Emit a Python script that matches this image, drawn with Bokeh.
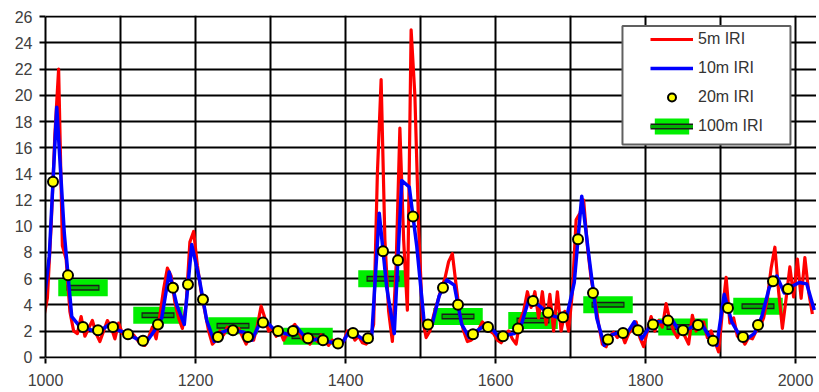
from bokeh.plotting import figure
from bokeh.models import FixedTicker, Legend, LegendItem, BoxAnnotation, Range1d
from bokeh.embed import file_html
from bokeh.resources import INLINE

# ---------------- data ----------------
# 5 m IRI, sampled every 5 m starting at 982.5
RED_START, RED_STEP = 982.5, 5
RED_5M = [
    1.5, 2.0, 2.6, 3.0, 4.5, 10.0, 17.0, 22.0, 8.5, 7.5,
    3.5, 2.0, 1.8, 3.1, 1.6, 2.2, 2.8, 1.8, 1.2, 2.0,
    2.8, 2.3, 1.4, 2.6, 1.8, 2.0, 1.5, 1.7, 1.3, 1.0,
    0.9, 1.5, 2.3, 1.4, 3.2, 5.2, 6.8, 6.2, 4.2, 3.0,
    2.2, 4.0, 8.8, 9.6, 7.0, 5.0, 3.5, 2.0, 1.0, 1.3,
    2.0, 1.7, 2.3, 2.0, 1.8, 2.2, 1.6, 1.0, 1.6, 1.3,
    2.4, 3.9, 3.0, 2.0, 2.2, 1.6, 2.0, 1.3, 1.8, 2.2,
    2.5, 2.0, 1.4, 1.6, 1.0, 1.5, 1.2, 1.7, 1.2, 0.9,
    1.3, 1.0, 1.3, 1.2, 2.0, 1.9, 1.3, 1.6, 1.1, 1.0,
    1.4, 2.5, 14.0, 21.2, 9.0, 3.5, 1.2, 7.0, 17.5, 9.0,
    3.6, 25.0, 20.0, 10.0, 3.0, 1.5, 2.0, 3.2, 4.2, 5.2,
    6.0, 7.3, 7.9, 5.5, 3.2, 2.0, 1.2, 1.3, 1.6, 2.1,
    2.7, 2.4, 2.0, 1.8, 1.3, 1.1, 1.6, 2.0, 1.4, 1.0,
    2.8, 3.5, 5.0, 3.8, 5.0, 3.0, 5.0, 2.5, 4.8, 2.0,
    5.0, 2.0, 3.5, 2.0, 5.0, 10.5, 11.0, 12.0, 8.5, 6.0,
    4.5, 2.5, 1.0, 0.8, 1.6, 1.9, 1.5, 1.9, 1.1, 1.8,
    2.2, 2.7, 1.5, 0.8, 2.0, 3.1, 2.0, 2.8, 2.3, 4.1,
    2.8, 2.0, 1.5, 2.2, 1.6, 1.0, 3.2, 2.0, 2.5, 2.7,
    1.5, 2.0, 1.2, 0.4, 3.5, 6.1, 2.6, 3.0, 1.6, 1.5,
    1.0, 1.5, 1.4, 2.0, 2.3, 3.0, 4.5, 6.8, 8.4, 5.0,
    2.2, 4.5, 6.9, 4.6, 7.5, 4.5, 7.6, 5.0, 3.3,
]
RED_X = [RED_START + RED_STEP * i for i in range(len(RED_5M))]

# 10 m IRI, sampled every 10 m starting at 985
BLUE_START, BLUE_STEP = 985, 10
BLUE_10M = [
    1.7, 2.7, 7.7, 19.1, 9.5, 3.1, 2.4, 2.2, 2.0, 2.1,
    2.5, 2.1, 1.9, 1.6, 1.3, 1.2, 2.0, 3.0, 6.5, 4.0,
    2.5, 8.6, 6.0, 2.8, 1.2, 1.9, 2.1, 2.0, 1.9, 1.3,
    2.5, 2.7, 2.1, 1.9, 1.7, 2.3, 1.6, 1.3, 1.4, 1.2,
    1.1, 1.0, 2.0, 1.7, 1.3, 1.6, 11.0, 5.3, 1.8, 13.5,
    13.0, 8.5, 2.6, 2.4, 4.7, 5.9, 5.5, 2.5, 1.5, 2.0,
    2.4, 2.2, 1.5, 1.7, 1.8, 2.6, 4.5, 4.1, 3.6, 3.2,
    3.0, 3.1, 5.7, 12.3, 7.5, 3.0, 0.9, 1.7, 1.9, 1.8,
    2.7, 1.4, 2.3, 2.7, 2.7, 2.9, 2.0, 2.1, 2.4, 2.5,
    1.6, 0.9, 4.8, 2.7, 1.7, 1.4, 1.8, 3.1, 5.3, 6.2,
    4.9, 5.4, 5.7, 5.6, 3.6,
]
BLUE_X = [BLUE_START + BLUE_STEP * i for i in range(len(BLUE_10M))]

# 20 m IRI, every 20 m starting at 1010
DOT_START, DOT_STEP = 1010, 20
DOTS_20M = [
    13.4, 6.25, 2.3, 2.05, 2.3, 1.75, 1.25, 2.5, 5.3, 5.55,
    4.4, 1.55, 2.05, 1.55, 2.65, 2.0, 2.0, 1.45, 1.3, 1.05,
    1.85, 1.45, 8.1, 7.4, 10.75, 2.5, 5.3, 4.0, 1.75, 2.3,
    1.6, 2.2, 4.3, 3.4, 3.05, 9.0, 4.9, 1.35, 1.85, 2.05,
    2.5, 2.8, 2.05, 2.45, 1.25, 3.75, 1.55, 2.45, 5.8, 5.2,
]
DOT_X = [DOT_START + DOT_STEP * i for i in range(len(DOTS_20M))]

# 100 m IRI, one value per 100 m section (centres)
SECT_X = [1050, 1150, 1250, 1350, 1450, 1550, 1650, 1750, 1850, 1950]
SECT_100M = [5.3, 3.2, 2.4, 1.6, 6.0, 3.1, 2.8, 4.0, 2.3, 3.9]

Y_TICKS = list(range(0, 27, 2))
X_LABEL_TICKS = [1000, 1200, 1400, 1600, 1800, 2000]
X_GRID_TICKS = list(range(1000, 2001, 100))

# ---------------- figure ----------------
FONT = "Liberation Sans"
p = figure(frame_width=771, frame_height=343,
           x_range=Range1d(1000, 2028), y_range=Range1d(-0.1, 26.1),
           output_backend="svg", toolbar_location=None,
           min_border_left=45, min_border_right=0, min_border_top=15, min_border_bottom=0)
p.outline_line_color = None
p.background_fill_color = "white"
p.border_fill_color = "white"

# axes
yax = p.yaxis[0]
yax.ticker = FixedTicker(ticks=Y_TICKS)
yax.bounds = (0, 26)
yax.axis_line_color = "black"
yax.axis_line_width = 2
yax.major_tick_line_color = "black"
yax.major_tick_line_width = 2
yax.major_tick_out = 6
yax.major_tick_in = 0
yax.minor_tick_line_color = None
yax.major_label_standoff = 7
yax.major_label_text_font = FONT
yax.major_label_text_font_size = "16px"
yax.major_label_text_color = "#404040"

xax = p.xaxis[0]
xax.ticker = FixedTicker(ticks=X_LABEL_TICKS)
xax.axis_line_color = None
xax.major_tick_line_color = "black"
xax.major_tick_line_width = 2
xax.major_tick_out = 5
xax.major_tick_in = 0
xax.minor_tick_line_color = None
xax.major_label_standoff = 10
xax.major_label_text_font = FONT
xax.major_label_text_font_size = "16px"
xax.major_label_text_color = "#404040"

# grids
p.xgrid.ticker = FixedTicker(ticks=X_GRID_TICKS)
p.xgrid.bounds = (0, 26)
p.ygrid.ticker = FixedTicker(ticks=Y_TICKS)
p.ygrid.bounds = (1000, 2000)
for g in (p.xgrid[0], p.ygrid[0]):
    g.grid_line_color = "black"
    g.grid_line_width = 2
    g.grid_line_alpha = 1

# ---------------- glyphs ----------------
GREEN = "#00ee00"
r_box = p.rect(x=SECT_X, y=SECT_100M, width=66, height=17, height_units="screen",
               fill_color=GREEN, line_color=None)
r_bar_dark = p.segment(x0=[x - 22 for x in SECT_X], x1=[x + 22 for x in SECT_X],
                       y0=SECT_100M, y1=SECT_100M, line_color="#1a1a1a", line_width=6)
r_bar_fill = p.segment(x0=[x - 20.5 for x in SECT_X], x1=[x + 20.5 for x in SECT_X],
                       y0=SECT_100M, y1=SECT_100M, line_color="#00b000", line_width=3)

r_red = p.line(RED_X, RED_5M, line_color="#ff0000", line_width=3.2, line_join="round")
r_blue = p.line(BLUE_X, BLUE_10M, line_color="#0000ff", line_width=3.5, line_join="round")
r_dot = p.scatter(DOT_X, DOTS_20M, size=10, fill_color="#ffff00", line_color="black", line_width=2)

# legend frame
p.add_layout(BoxAnnotation(left=1769.3, right=1993.3, bottom=16.24, top=25.3,
                           fill_color="white", fill_alpha=1,
                           line_color="#606060", line_width=2, line_alpha=1))

legend = Legend(items=[
    LegendItem(label="5m IRI", renderers=[r_red]),
    LegendItem(label="10m IRI", renderers=[r_blue]),
    LegendItem(label="20m IRI", renderers=[r_dot]),
    LegendItem(label="100m IRI", renderers=[r_box, r_bar_dark, r_bar_fill]),
], location=(605, 222), orientation="vertical",
    glyph_width=43, glyph_height=20, label_height=20, spacing=9, padding=6, margin=0,
    label_standoff=5, border_line_color=None, background_fill_alpha=0,
    label_text_font=FONT, label_text_font_size="16px", label_text_color="#333333")
p.add_layout(legend)

open("out.html", "w").write(file_html(p, INLINE))
